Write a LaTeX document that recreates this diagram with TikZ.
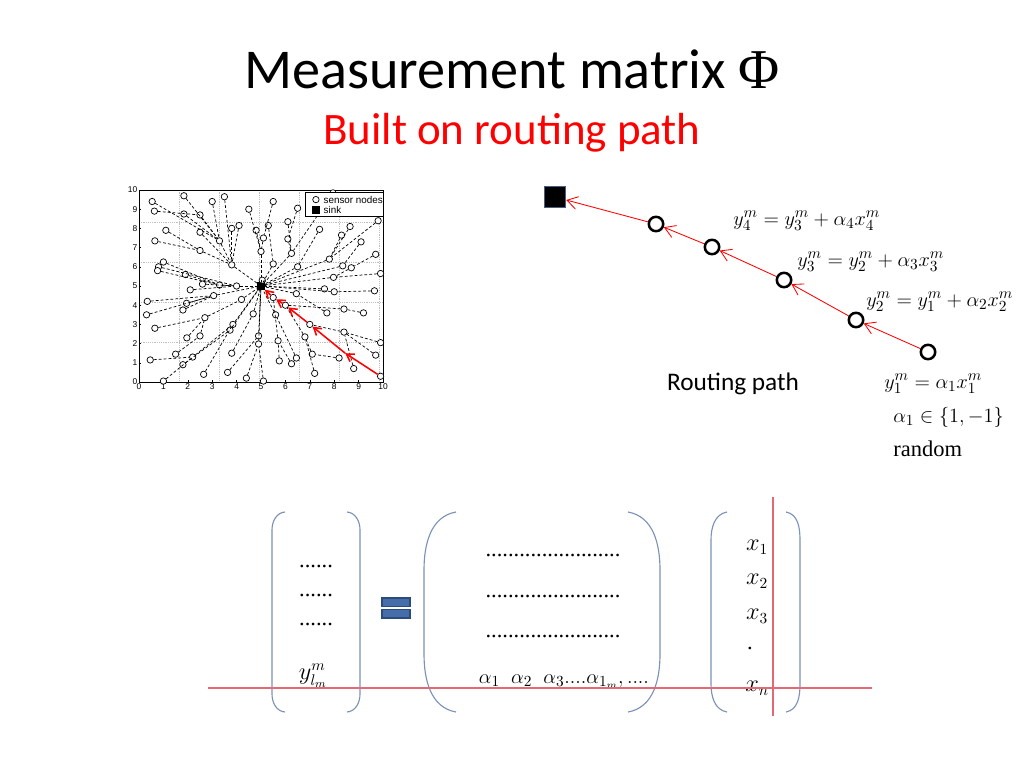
\documentclass[tikz,border=0pt]{standalone}
\usepackage{fontspec}
\setmainfont{Liberation Serif}
\newfontfamily\calibri{Carlito}
\newfontfamily\plotsans{Liberation Sans}
\usetikzlibrary{arrows.meta}
\definecolor{brk}{RGB}{122,146,182}
\definecolor{eqfill}{RGB}{70,110,170}
\definecolor{eqedge}{RGB}{45,75,120}
\definecolor{sinkedge}{RGB}{70,95,130}
\definecolor{gridgray}{RGB}{190,190,190}
\definecolor{hline}{RGB}{228,105,118}

\begin{document}
\begin{tikzpicture}[x=0.25mm, y=-0.25mm,
    sn/.style={draw, circle, fill=white, line width=0.5pt, minimum size=1.6mm, inner sep=0pt},
    sinkbox/.style={draw, fill=black, minimum size=1.8mm, inner sep=0pt},
    tick/.style={font=\plotsans\fontsize{6}{7}\selectfont, inner sep=1pt},
    lgd/.style={font=\plotsans\fontsize{7}{8}\selectfont, inner sep=1pt, anchor=west},
    link/.style={dash pattern=on 2pt off 1.5pt, line width=0.5pt},
    pathred/.style={-{Straight Barb[length=1.8mm, width=2.2mm]}, red, line width=1.1pt},
    hop/.style={draw, circle, fill=white, line width=1.8pt, minimum size=3.6mm, inner sep=0pt},
    redarr/.style={-{Straight Barb[length=2.6mm, width=3.2mm]}, red, line width=0.6pt},
    eq/.style={anchor=base west, font=\fontsize{15}{18}\selectfont, inner sep=0pt},
    brace/.style={draw=brk, line width=0.8pt},
    mx/.style={font=\fontsize{16}{19}\selectfont, inner sep=0pt}]
  \useasboundingbox (0,0) rectangle (1024,768);

  \node[anchor=base, font=\calibri\fontsize{40}{46}\selectfont] (title) at (512,88) {Measurement matrix {\rmfamily Φ}};
  \node[anchor=base, font=\calibri\fontsize{32}{38}\selectfont, text=red] (subtitle) at (512,144) {Built on routing path};

  \begin{scope}[shift={(139,382)}, x=6.1mm, y=4.8mm]
    \draw[gridgray, densely dotted, line width=0.3pt] (0,0) grid (10,10);
    \draw[line width=0.4pt] (0,0) rectangle (10,10);
    \foreach \t in {0,...,10} {
      \draw[line width=0.3pt] (\t,0) -- (\t,0.12) (0,\t) -- (0.08,\t);
      \node[tick, below] at (\t,0) {\t};
      \node[tick, left] at (0,\t) {\t};
    }
    \node[sinkbox] (n0) at (5,5) {};
    \foreach \x/\y [count=\i] in {0.54/9.4, 0.63/8.9, 1.84/9.7, 1.84/8.75, 2.5/8.7, 3.0/9.4, 3.5/9.65, 4.5/9.0,
        5.5/9.4, 6.5/9.05, 1.1/7.9, 2.5/7.8, 3.3/7.35, 0.65/7.35, 2.5/6.85, 3.8/8.0, 4.1/8.15, 4.8/7.9,
        5.3/8.15, 5.1/7.5, 5.0/6.8, 5.5/6.15, 3.8/6.1, 6.1/8.35, 6.1/7.45, 6.25/6.7, 7.4/7.95, 6.5/6.0,
        7.8/6.4, 8.3/7.65, 8.65/8.1, 9.1/7.3, 9.8/8.4, 9.7/6.65, 8.35/6.05, 8.7/5.95, 7.97/5.45, 9.9/5.65,
        7.6/4.85, 8.0/4.7, 9.65/4.75, 6.45/4.6, 7.7/3.6, 8.4/3.8, 9.2/3.6, 0.8/6.0, 0.76/5.8, 1.0/6.25,
        1.9/5.6, 2.6/5.1, 2.1/4.8, 3.3/5.05, 4.0/5.0, 5.05/5.3, 0.34/4.2, 0.31/3.5, 1.95/4.1, 1.8/3.75,
        3.06/4.5, 4.2/4.3, 5.5/4.4, 6.0/4.0, 5.6/3.5, 4.68/3.55, 2.7/3.35, 0.65/2.8, 3.85/3.0, 3.73/2.7,
        7.0/3.0, 6.8/2.35, 8.4/2.6, 9.9/2.05, 1.96/2.3, 2.5/2.4, 4.9/2.4, 4.9/1.98, 5.7/2.15, 1.5/1.45,
        2.2/1.3, 3.8/1.5, 0.46/1.15, 1.8/0.9, 2.65/0.4, 3.63/0.5, 4.4/0.2, 5.1/0.05, 1.0/0.05, 5.75/1.1,
        6.25/0.95, 6.45/1.25, 7.1/1.45, 7.2/0.45, 8.2/1.25, 8.8/0.7, 9.7/1.4, 9.9/0.3, 7.95/9.85}
      \node[sn] (n\i) at (\x,\y) {};
    \foreach \a/\b in {1/13, 2/5, 3/13, 4/13, 5/13, 6/13, 7/23, 8/21, 9/20, 10/25, 11/15, 12/23, 13/23,
        14/15, 15/23, 16/23, 17/23, 18/21, 19/22, 20/21, 21/0, 22/0, 23/0, 24/26, 25/26, 26/0, 27/28,
        28/0, 29/0, 30/29, 31/29, 32/35, 33/29, 34/36, 35/0, 36/37, 37/0, 38/37, 39/0, 40/0, 41/40,
        42/0, 43/42, 44/62, 45/44, 46/53, 47/52, 48/52, 49/52, 50/53, 51/53, 52/53, 53/0, 54/0, 55/59,
        56/59, 57/59, 58/59, 59/0, 60/0, 63/0, 64/0, 65/60, 66/65, 67/0, 68/0, 70/62, 71/69, 72/71,
        73/65, 74/65, 75/0, 76/0, 77/61, 78/74, 79/67, 80/64, 81/79, 82/68, 83/67, 84/75, 85/76, 86/76,
        87/79, 88/77, 89/77, 90/63, 91/70, 92/70, 93/91, 94/71, 95/71, 97/26}
      \draw[link] (n\a) -- (n\b);
    \coordinate (rmid) at (8.45,1.5);
    \draw[pathred] (n96) -- (rmid);
    \draw[pathred] (rmid) -- (n69);
    \draw[pathred] (n69) -- (n62);
    \draw[pathred] (n62) -- (n61);
    \draw[pathred] (n61) -- (n0);
    \draw[fill=white, line width=0.4pt] (6.8,8.65) rectangle (10,9.9);
    \node[sn] (lg1) at (7.25,9.5) {};
    \node[lgd] at (7.5,9.5) {sensor nodes};
    \node[sinkbox] (lg2) at (7.25,8.98) {};
    \node[lgd] at (7.5,8.98) {sink};
  \end{scope}

  \node[draw=sinkedge, fill=black, line width=1.2pt, minimum size=5.2mm, inner sep=0pt] (bs) at (555,197) {};
  \node[hop] (h5) at (656,224) {};
  \node[hop] (h4) at (712,247) {};
  \node[hop] (h3) at (784,280) {};
  \node[hop] (h2) at (856,320) {};
  \node[hop] (h1) at (928,352) {};
  \draw[redarr] (h1) -- (h2);
  \draw[redarr] (h2) -- (h3);
  \draw[redarr] (h3) -- (h4);
  \draw[redarr] (h4) -- (h5);
  \draw[redarr] (h5) -- (bs);
  \node[eq] (e4) at (733,225) {$y_4^m = y_3^m + \alpha_4 x_4^m$};
  \node[eq] (e3) at (797,266) {$y_3^m = y_2^m + \alpha_3 x_3^m$};
  \node[eq] (e2) at (866,306) {$y_2^m = y_1^m + \alpha_2 x_2^m$};
  \node[eq] (e1) at (884,388) {$y_1^m = \alpha_1 x_1^m$};
  \node[eq] (a1) at (893,422) {$\alpha_1 \in \{1,-1\}$};
  \node[eq, font=\fontsize{16}{19}\selectfont] (rnd) at (893,456) {random};
  \node[anchor=base, font=\calibri\fontsize{18}{22}\selectfont] (rp) at (733,390) {Routing path};

  \draw[brace] (285,512) to[out=185,in=90] (272,530) -- (272,694) to[out=-90,in=175] (285,712);
  \draw[brace] (347,512) to[out=-5,in=90] (360,530) -- (360,694) to[out=-90,in=5] (347,712);
  \draw[brace] (456,512) to[out=190,in=90] (424,570) -- (424,654) to[out=-90,in=170] (456,712);
  \draw[brace] (628,512) to[out=-10,in=90] (660,570) -- (660,654) to[out=-90,in=10] (628,712);
  \draw[brace] (727,512) to[out=190,in=90] (711,540) -- (711,684) to[out=-90,in=170] (727,712);
  \draw[brace] (786,512) to[out=-10,in=90] (800,540) -- (800,684) to[out=-90,in=10] (786,712);

  \foreach \yy [count=\k] in {567,596,625}
    \node[mx, anchor=base] (ld\k) at (316,\yy) {......};
  \node[mx] (ylm) at (313,676) {$y_{l_m}^m$};
  \draw[fill=eqfill, draw=eqedge, line width=0.8pt] (382,598) rectangle (410,606.5);
  \draw[fill=eqfill, draw=eqedge, line width=0.8pt] (382,609.5) rectangle (410,618);
  \foreach \yy [count=\k] in {556,597,637}
    \node[mx, anchor=base] (md\k) at (553,\yy) {........................};
  \node[mx, anchor=base, font=\fontsize{15}{18}\selectfont] (arow) at (564,683) {$\alpha_1\;\;\alpha_2\;\;\alpha_3....\alpha_{1_m},....$};
  \node[mx] (x1) at (757,547) {$x_1$};
  \node[mx] (x2) at (757,581) {$x_2$};
  \node[mx] (x3) at (757,616) {$x_3$};
  \node[mx] (xd) at (750,648) {.};
  \node[mx] (xn) at (757,688) {$x_n$};

  \draw[hline, line width=0.8pt] (208,688) -- (872,688);
  \draw[hline, line width=0.8pt] (773,497) -- (773,716);
\end{tikzpicture}
\end{document}
